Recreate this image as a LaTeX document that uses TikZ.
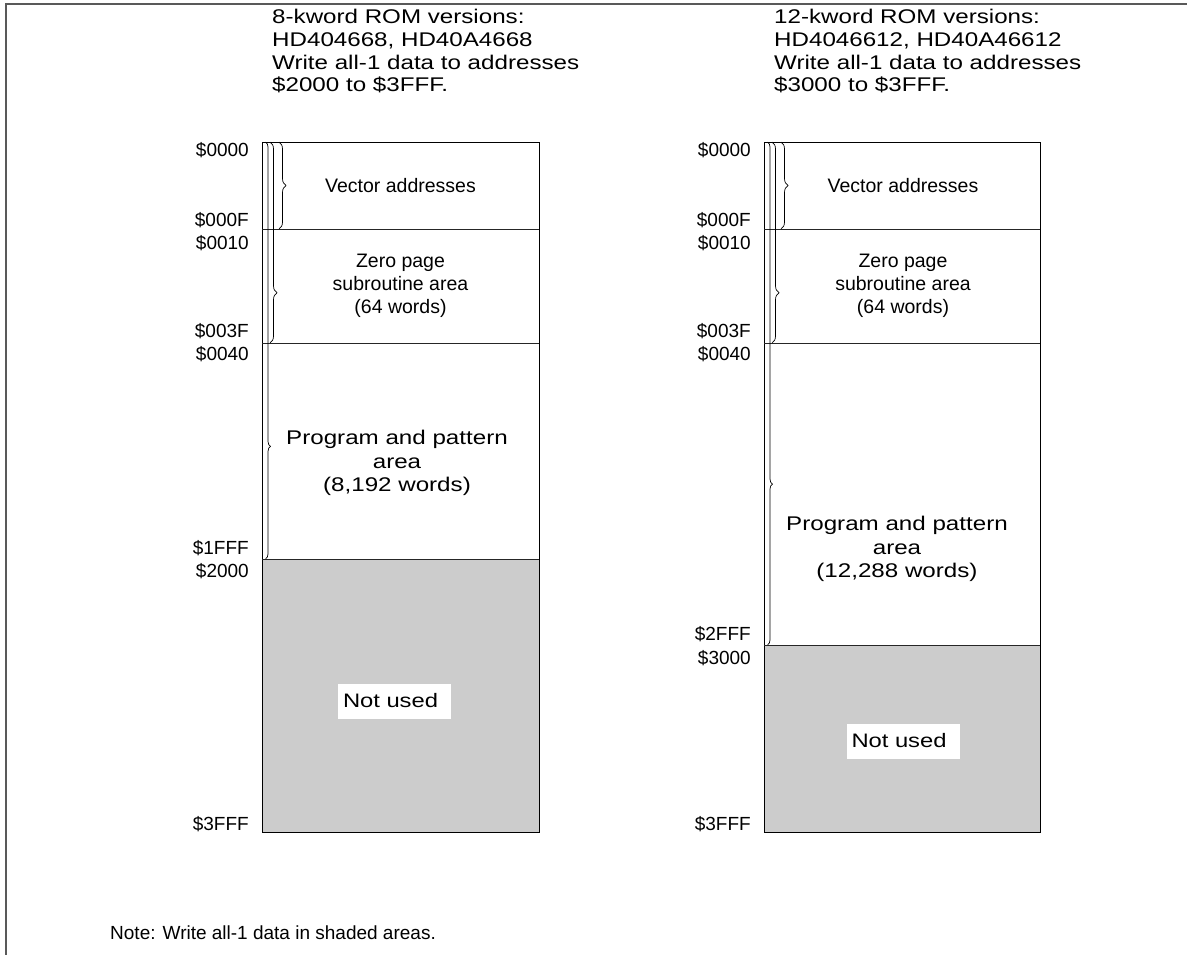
\documentclass[tikz,border=0pt]{standalone}
\usepackage{fontspec}
\setmainfont{Liberation Sans}
\newfontfamily\widefont[FakeStretch=1.22]{Liberation Sans}
\usetikzlibrary{decorations.pathreplacing}
\begin{document}
\begin{tikzpicture}[x=1pt,y=-1pt,
  txt/.style={font=\fontsize{19.5}{23}\selectfont, inner sep=0pt, align=center},
  bigtxt/.style={font=\widefont\fontsize{19.8}{23.5}\selectfont, inner sep=0pt, align=center},
  hdr/.style={font=\widefont\fontsize{19.8}{22.6}\selectfont, inner sep=0pt, align=left, anchor=base west},
  addr/.style={font=\fontsize{19}{22.7}\selectfont, inner sep=0pt, anchor=base east},
  notused/.style={font=\widefont\fontsize{19.5}{23}\selectfont, fill=white, inner xsep=5pt, inner ysep=0pt,
                  text width=103pt, align=left, minimum height=35pt},
  mapbox/.style={draw=black, line width=0.9pt},
  divider/.style={draw=black!85, line width=1pt},
  shaded/.style={fill=black!20},
  frameline/.style={draw=black!65, line width=1.3pt},
  braceline/.style={decorate, line width=0.7pt},
]
\useasboundingbox (0,0) rectangle (1187,955);
\coordinate (fb) at (6,955);
\coordinate (ftl) at (6,4);
\coordinate (ftr) at (1187,4);
\draw[frameline] (fb) -- (ftl) -- (ftr);

% ---------- left map ----------
\fill[shaded] (262,559) rectangle (539,832);
\draw[mapbox] (262,142) rectangle (539,832);
\draw[divider] (262,229) -- (539,229);
\draw[divider] (262,343) -- (539,343);
\draw[divider] (262,559) -- (539,559);

\node[hdr] (lhdr1) at (272,24) {8-kword ROM versions:};
\node[hdr] (lhdr2) at (272,46.6) {HD404668, HD40A4668};
\node[hdr] (lhdr3) at (272,69.2) {Write all-1 data to addresses};
\node[hdr] (lhdr4) at (272,91.8) {\$2000 to \$3FFF.};

\node[addr] (la0) at (249,157) {\$0000};
\node[addr] (la1) at (249,226) {\$000F};
\node[addr] (la2) at (249,249) {\$0010};
\node[addr] (la3) at (249,337) {\$003F};
\node[addr] (la4) at (249,360) {\$0040};
\node[addr] (la5) at (249,554) {\$1FFF};
\node[addr] (la6) at (249,577) {\$2000};
\node[addr] (la7) at (249,830) {\$3FFF};

\draw[braceline, decoration={brace, amplitude=7pt, aspect=0.5}] (279,142) -- (279,229);
\draw[braceline, decoration={brace, amplitude=7pt, aspect=0.75}] (270,142) -- (270,343);
\draw[braceline, decoration={brace, amplitude=5pt, aspect=0.73}] (265.5,142) -- (265.5,559);

\node[txt] (lvec) at (400.5,185.5) {Vector addresses};
\node[txt] (lzero) at (400.5,286) {Zero page\\subroutine area\\(64 words)};
\node[bigtxt] (lprog) at (397,463) {Program and pattern\\area\\(8,192 words)};
\node[notused] (lnot) at (394.5,701) {Not used};

% ---------- right map ----------
\fill[shaded] (764,645) rectangle (1040,832);
\draw[mapbox] (764,142) rectangle (1040,832);
\draw[divider] (764,229) -- (1040,229);
\draw[divider] (764,343) -- (1040,343);
\draw[divider] (764,645) -- (1040,645);

\node[hdr] (rhdr1) at (774,24) {12-kword ROM versions:};
\node[hdr] (rhdr2) at (774,46.6) {HD4046612, HD40A46612};
\node[hdr] (rhdr3) at (774,69.2) {Write all-1 data to addresses};
\node[hdr] (rhdr4) at (774,91.8) {\$3000 to \$3FFF.};

\node[addr] (ra0) at (751,157) {\$0000};
\node[addr] (ra1) at (751,226) {\$000F};
\node[addr] (ra2) at (751,249) {\$0010};
\node[addr] (ra3) at (751,337) {\$003F};
\node[addr] (ra4) at (751,360) {\$0040};
\node[addr] (ra5) at (751,640) {\$2FFF};
\node[addr] (ra6) at (751,664) {\$3000};
\node[addr] (ra7) at (751,830) {\$3FFF};

\draw[braceline, decoration={brace, amplitude=7pt, aspect=0.5}] (781,142) -- (781,229);
\draw[braceline, decoration={brace, amplitude=7pt, aspect=0.75}] (772,142) -- (772,343);
\draw[braceline, decoration={brace, amplitude=5pt, aspect=0.68}] (767.5,142) -- (767.5,645);

\node[txt] (rvec) at (903,185.5) {Vector addresses};
\node[txt] (rzero) at (903,286) {Zero page\\subroutine area\\(64 words)};
\node[bigtxt] (rprog) at (897,549) {Program and pattern\\area\\(12,288 words)};
\node[notused] (rnot) at (903,741) {Not used};

\node[font=\fontsize{19}{22.7}\selectfont, inner sep=0pt, anchor=west] (note) at (110,933) {Note: Write all-1 data in shaded areas.};
\end{tikzpicture}
\end{document}
